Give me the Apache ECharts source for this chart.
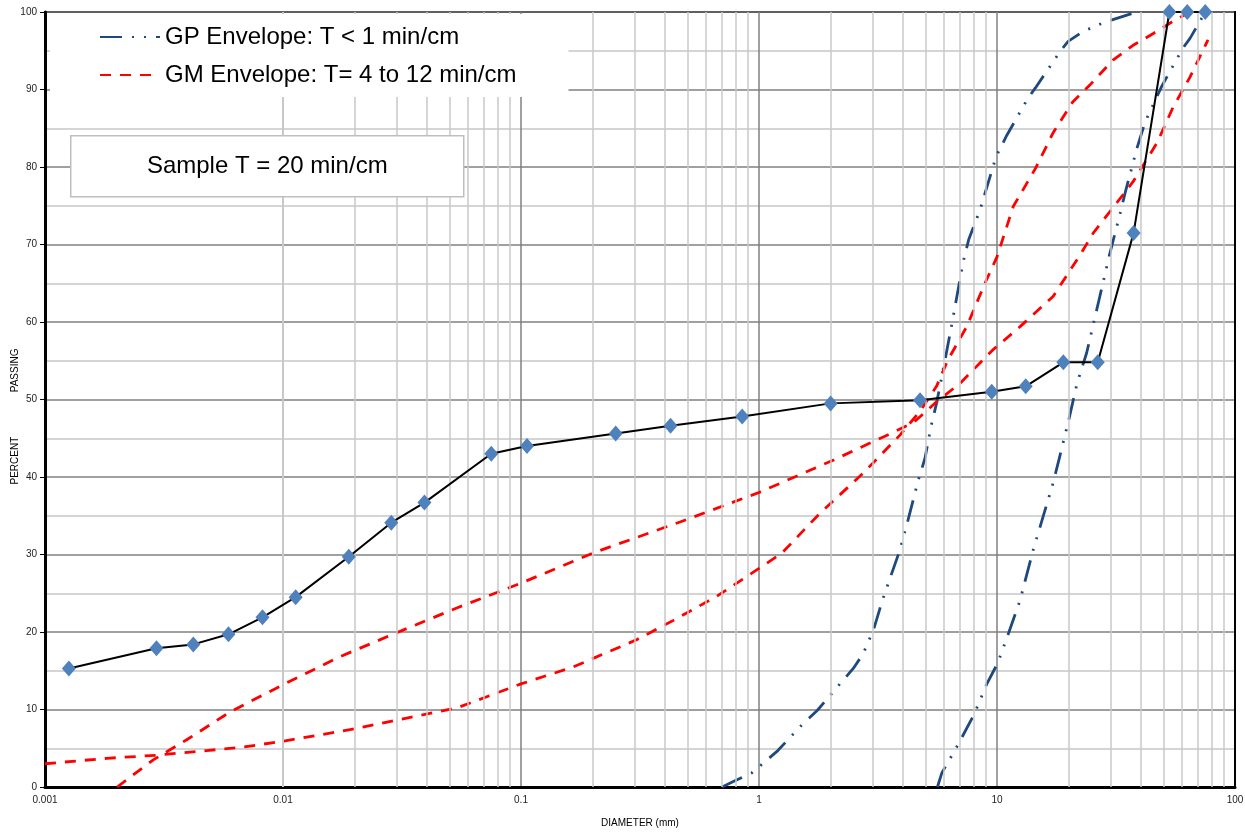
<!DOCTYPE html>
<html><head><meta charset="utf-8">
<script src="https://cdn.jsdelivr.net/npm/echarts@6/dist/echarts.min.js"></script>
<style>html,body{margin:0;padding:0;background:#fff}#c{width:1245px;height:833px}</style>
</head><body><div id="c"></div>
<script>
// Sample gradation (diameter mm, percent passing)
const sampleDiam = [0.00126, 0.00294, 0.0042, 0.0059, 0.0082, 0.0113, 0.0189, 0.0285, 0.0393, 0.075, 0.106, 0.25, 0.425, 0.85, 2.0, 4.75, 9.5, 13.2, 19, 26.5, 37.5, 53, 63, 75];
const samplePass = [15.3, 17.9, 18.4, 19.7, 21.9, 24.5, 29.7, 34.1, 36.7, 43.0, 44.0, 45.6, 46.6, 47.8, 49.5, 49.9, 51.0, 51.7, 54.8, 54.8, 71.5, 100, 100, 100];

// GP envelope, fine bound
const gpFineDiam = [0.70, 0.78, 0.93, 1.0, 1.2, 1.49, 1.76, 2.0, 2.49, 2.74, 3.03, 3.3, 3.91, 4.20, 4.67, 4.98, 5.28, 5.57, 6.05, 6.53, 7.19, 7.6, 8.49, 9.9, 11.0, 13.5, 14.5, 18.4, 19.9, 23.0, 28.4, 38.7];
const gpFinePass = [0, 0.7, 1.8, 2.6, 4.7, 7.8, 9.9, 11.9, 15.3, 17.2, 20.3, 24.1, 30.6, 34.1, 39.6, 42.4, 46.5, 49.5, 55.1, 60.5, 67.6, 70.6, 74.5, 81.3, 84.1, 88.9, 90.2, 94.9, 96.2, 97.5, 98.7, 100];
// GP envelope, coarse bound
const gpCoarseDiam = [5.62, 5.87, 6.2, 6.9, 8.05, 9.03, 10.07, 11.2, 12.5, 14.2, 15.7, 17.2, 18.2, 20.1, 21.7, 23.8, 26.9, 29.6, 32.9, 34.7, 38.7, 41.9, 49.2, 60.3, 64.7, 75];
const gpCoarsePass = [0, 1.85, 3.1, 5.6, 9.5, 13.2, 16.0, 19.9, 24.1, 30.6, 35.1, 39.2, 42.2, 47.6, 52.1, 56.0, 63.0, 68.5, 74.0, 76.9, 82.4, 85.8, 90.4, 95.3, 96.6, 100];

// GM envelope, curve 1
const gm1Diam = [0.00201, 0.00285, 0.00394, 0.006, 0.01, 0.0173, 0.030, 0.0537, 0.1, 0.165, 0.201, 0.466, 1.0, 2.06, 3.4, 4.45, 5.57, 7.0, 9.6, 12.5, 17.2, 22.4, 25.4, 31.9, 37.3, 47.0, 54.9, 64.7, 77];
const gm1Pass = [0, 3.5, 6.1, 9.7, 13.2, 16.8, 19.9, 23.1, 26.3, 29.1, 30.2, 34.2, 38.0, 42.2, 45.3, 47.0, 49.7, 52.1, 56.4, 59.4, 63.3, 68.7, 71.5, 75.4, 78.1, 83.1, 87.7, 91.6, 96.4];
// GM envelope, curve 2
const gm2Diam = [0.001, 0.00182, 0.00294, 0.00477, 0.0066, 0.01, 0.0191, 0.0331, 0.0537, 0.1, 0.166, 0.306, 0.437, 0.664, 1.0, 1.25, 1.80, 2.74, 3.91, 4.75, 5.57, 6.22, 7.46, 8.9, 10.0, 11.7, 14.5, 17.2, 20.8, 24.6, 30.7, 37.3, 45.2, 54.9, 64.5];
const gm2Pass = [3.0, 3.7, 4.1, 4.7, 5.1, 5.9, 7.4, 8.9, 10.2, 13.3, 15.5, 19.0, 21.5, 24.6, 28.2, 30.2, 35.3, 40.5, 45.4, 48.5, 51.7, 55.1, 59.4, 65.0, 68.4, 74.9, 79.8, 84.4, 88.4, 90.6, 93.8, 95.7, 97.2, 98.8, 100];

// Axis ticks
const xDecades = [0.001, 0.01, 0.1, 1, 10, 100];
const minorMultipliers = [2, 3, 4, 5, 6, 7, 8, 9];

const GP_NAME = 'GP Envelope: T < 1 min/cm';
const GM_NAME = 'GM Envelope: T= 4 to 12 min/cm';

const zip = (a, b) => a.map((v, i) => [v, b[i]]);
const minorX = [];
xDecades.slice(0, -1).forEach(d => minorMultipliers.forEach(m => minorX.push(+(d * m).toPrecision(3))));

const FONT = 'Arial, "Liberation Sans", sans-serif';
const gpStyle = {color: '#1F497D', width: 2.8, type: [22, 10, 2, 10, 2, 10]};
const gmStyle = {color: '#FF0000', width: 2.8, type: [11, 9]};
const curveOpts = {symbol: 'none', smooth: false, z: 3};
const frameAxis = {show: true, axisLine: {show: true, lineStyle: {color: '#000', width: 2}}, axisTick: {show: false},
  axisLabel: {show: false}, splitLine: {show: false}, minorSplitLine: {show: false}};

const chart = echarts.init(document.getElementById('c'), null, {renderer: 'canvas'});
chart.setOption({
  animation: false,
  backgroundColor: '#fff',
  grid: {left: 45, right: 10, top: 12, bottom: 46, containLabel: false, outerBoundsMode: 'none',
    show: true, borderColor: '#000', borderWidth: 2, backgroundColor: 'transparent'},
  xAxis: [{
    type: 'log', logBase: 10, min: xDecades[0], max: xDecades[xDecades.length - 1],
    name: 'DIAMETER (mm)', nameLocation: 'middle', nameGap: 31, nameMoveOverlap: false,
    nameTextStyle: {fontSize: 10, fontFamily: FONT, color: '#000'},
    axisLine: {lineStyle: {color: '#000', width: 3}},
    axisTick: {show: false},
    axisLabel: {fontSize: 10, fontFamily: FONT, color: '#222', margin: 8},
    splitLine: {show: true, lineStyle: {color: '#808080', width: 1.5}}
  }, Object.assign({type: 'log', logBase: 10, min: xDecades[0], max: xDecades[xDecades.length - 1], position: 'top'}, frameAxis)],
  yAxis: [{
    type: 'value', min: 0, max: 100, interval: 10,
    name: 'PERCENT                PASSING', nameLocation: 'middle', nameGap: 25, nameMoveOverlap: false,
    nameTextStyle: {fontSize: 10, fontFamily: FONT, color: '#000', padding: [0, 34, 0, 0]},
    axisLine: {show: true, lineStyle: {color: '#000', width: 3}},
    axisTick: {show: true, length: 5, lineStyle: {color: '#000'}},
    axisLabel: {fontSize: 10, fontFamily: FONT, color: '#222', margin: 8},
    splitLine: {show: true, lineStyle: {color: '#808080', width: 1.5}},
    minorTick: {show: false, splitNumber: 2},
    minorSplitLine: {show: true, lineStyle: {color: '#C8C8C8', width: 1.5}}
  }, Object.assign({type: 'value', min: 0, max: 100, interval: 10, position: 'right'}, frameAxis)],
  legend: {
    data: [GP_NAME, GM_NAME], orient: 'vertical', left: 50, top: 14,
    backgroundColor: '#fff', padding: [11, 52, 10, 49], itemWidth: 60, itemHeight: 24, itemGap: 14,
    textStyle: {fontSize: 24, fontFamily: FONT, color: '#000'},
    itemStyle: {opacity: 0}, selectedMode: false, z: 20
  },
  graphic: [{
    type: 'group', left: 70, top: 135, z: 100,
    children: [
      {type: 'rect', z: 100, shape: {x: 0, y: 0, width: 393, height: 61}, style: {fill: '#fff', stroke: '#BFBFBF', lineWidth: 1.5}},
      {type: 'text', z: 101, x: 196.5, y: 31, style: {text: 'Sample T = 20 min/cm', fontSize: 24, fontFamily: FONT, fill: '#000', align: 'center', verticalAlign: 'middle'}}
    ]
  }],
  series: [
    {
      name: '_grid', type: 'line', data: [], silent: true, z: 1,
      markLine: {silent: true, symbol: ['none', 'none'], label: {show: false},
        lineStyle: {color: '#C8C8C8', width: 1.5, type: 'solid'},
        emphasis: {disabled: true},
        data: minorX.map(v => ({xAxis: v}))}
    },
    Object.assign({name: GP_NAME, type: 'line', data: zip(gpFineDiam, gpFinePass), lineStyle: gpStyle, itemStyle: {color: gpStyle.color}}, curveOpts),
    Object.assign({name: GP_NAME, type: 'line', data: zip(gpCoarseDiam, gpCoarsePass), lineStyle: gpStyle, itemStyle: {color: gpStyle.color}}, curveOpts),
    Object.assign({name: GM_NAME, type: 'line', data: zip(gm1Diam, gm1Pass), lineStyle: gmStyle, itemStyle: {color: gmStyle.color}}, curveOpts),
    Object.assign({name: GM_NAME, type: 'line', data: zip(gm2Diam, gm2Pass), lineStyle: gmStyle, itemStyle: {color: gmStyle.color}}, curveOpts),
    {name: 'Sample', type: 'line', data: zip(sampleDiam, samplePass), symbol: 'diamond', symbolSize: [14, 16],
      itemStyle: {color: '#4F81BD'}, lineStyle: {color: '#000', width: 2}, z: 5}
  ]
});
</script>
</body></html>
